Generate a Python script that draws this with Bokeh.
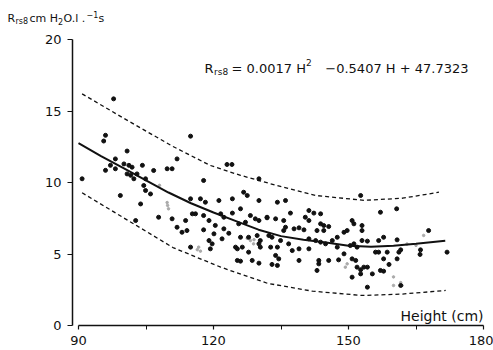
from bokeh.plotting import figure
from bokeh.models import Label, FixedTicker, Range1d
from bokeh.embed import file_html
from bokeh.resources import INLINE

# ---- data ----
pts_h = [97.8, 96, 95.6, 100.8, 98.2, 97.1, 96, 98.2, 100.1, 101.2, 101.9, 104.2, 106.7, 109.7, 110.8,
         100.8, 101.6, 103, 102.3, 104.9, 104.5, 104.9, 106, 90.8, 99.3, 103.8, 107.8, 110.8, 102.7, 114.9,
         111.9, 123, 124.1, 117.8, 130.1, 114.9, 117.1, 118.2, 121.2, 124.2, 126.7, 127.5, 130.1, 126, 131.9,
         128.2, 129.3, 130.1, 115.3, 116, 117.8, 121.6, 122.3, 124.2, 119, 113.8, 111.9, 120.4, 125.6, 127.1,
         122.3, 117.8, 113, 114.1, 120.1, 123.4, 126, 127.8, 129.7, 130.4, 121.9, 119, 119.7, 114.9, 124.9,
         125.3, 126.4, 119.3, 130.1, 130.4, 127.8, 125.3, 126, 128.6, 130.1,
         134.2, 136, 141.2, 142.3, 143.8, 137.1, 140.4, 131.9, 133.8, 135.6, 136, 135.6, 141.2, 143.8, 144.5,
         145.6, 150.8, 151.2, 137.9, 139, 140.1, 143, 144.5, 147.5, 149, 149.7, 153, 132.3, 133, 141.2,
         142.7, 143.8, 144.9, 146.4, 147.5, 150.4, 151.2, 151.9, 134.9, 134.2, 132.7, 136.7, 137.5, 139, 141.2,
         133.8, 134.5, 139, 143.4, 143.4, 145.6, 147.8, 149, 150.8, 151.6, 133, 134.2, 143, 151.9, 152.7,
         150.8, 152.7,
         157.1, 160.7, 167.8, 153, 157.8, 156.7, 160.8, 153, 154.2, 156, 156.7, 158.6, 161.6, 161.2, 166,
         165.9, 171.9, 157.8, 160.8, 159, 153.4, 154.2, 152.7, 155.3, 157.1, 157.8, 161.6, 154.2]
pts_r = [15.85, 13.3, 12.9, 12.2, 11.65, 11.2, 10.85, 10.96, 11.3, 11.2, 11.07, 11.2, 10.84, 10.96, 10.96,
         10.6, 10.5, 10.6, 10.26, 10.26, 9.79, 9.44, 9.2, 10.26, 9.09, 8.5, 7.57, 7.46, 7.34, 13.24,
         11.65, 11.26, 11.26, 10.14, 10.26, 8.86, 8.86, 8.62, 8.74, 8.86, 9.32, 9.09, 8.74, 8.16, 7.57,
         7.69, 7.46, 7.34, 7.81, 7.81, 7.69, 7.81, 7.57, 7.86, 7.34, 7.34, 6.87, 7.0, 7.11, 7.22,
         6.76, 6.69, 6.52, 6.64, 6.41, 6.45, 6.17, 6.17, 6.29, 5.94, 6.06, 5.94, 5.71, 5.48, 5.48,
         5.36, 5.48, 5.36, 5.71, 5.48, 5.13, 4.55, 4.5, 4.55, 4.36,
         8.62, 8.74, 8.04, 7.86, 7.81, 7.86, 7.57, 7.53, 7.46, 7.34, 6.87, 6.64, 7.34, 7.11, 6.99,
         6.92, 7.34, 7.11, 6.76, 6.83, 6.69, 6.64, 6.64, 6.17, 6.52, 6.64, 6.64, 6.29, 6.17, 6.06,
         5.94, 5.83, 5.71, 5.94, 5.48, 5.59, 5.71, 5.48, 5.94, 5.48, 5.48, 5.71, 5.24, 5.36, 5.36,
         4.9, 4.66, 4.55, 4.55, 4.31, 4.55, 4.59, 5.01, 4.66, 4.55, 4.27, 4.2, 3.85, 4.08, 3.9,
         3.38, 9.09,
         7.92, 8.16, 6.64, 6.99, 6.17, 5.94, 5.99, 5.94, 5.9, 5.13, 5.13, 5.13, 5.29, 5.13, 5.29,
         4.97, 5.13, 4.66, 4.66, 4.27, 4.08, 4.08, 3.61, 3.61, 3.85, 3.8, 2.8, 2.68]

gray_h = [109.7, 110, 109.8, 116.7, 116.4, 117.1, 127.5, 128.2, 128.9, 129, 149.3, 149.7, 160, 161.6,
          160, 161.9, 166.7, 108, 163, 165]
gray_r = [8.6, 8.16, 8.4, 5.48, 5.3, 5.2, 6.1, 5.94, 5.71, 6.0, 4.08, 4.31, 3.4, 3.0,
          2.8, 2.8, 6.3, 9.8, 5.7, 5.6]

curve_h = [90, 95, 100, 105, 110, 115, 120, 125, 130, 135, 140, 145, 150, 155, 160, 165, 171.5]
curve_r = [12.75, 11.85, 11.0, 10.15, 9.3, 8.55, 7.9, 7.3, 6.7, 6.25, 6.0, 5.8, 5.58, 5.5, 5.58, 5.72, 5.92]

upper_h = [90.8, 100, 110.8, 119.3, 126, 132.7, 142.7, 153.5, 162, 170.1]
upper_r = [16.2, 14.5, 12.55, 11.19, 10.5, 9.91, 9.09, 8.75, 8.9, 9.32]

lower_h = [90.8, 100.4, 111, 121.6, 132, 142, 153, 162, 171.6]
lower_r = [9.28, 7.46, 5.45, 4.08, 2.95, 2.4, 2.1, 2.2, 2.45]

x_ticks = [90, 120, 150, 180]
x_minor = [105, 135, 165]
y_ticks = [0, 5, 10, 15, 20]

FONT = "DejaVu Sans"
INK = "#111111"
W, H = 493, 350

# page geometry: H=90 sits at page x 78, 4.5 px per cm; R=0 at page y 325, 14.3 px per unit
PX_X0, PX_PER_H = 78.0, 4.5
PX_Y0, PX_PER_R = 325.0, 14.3
x_lo = 90 - PX_X0 / PX_PER_H
x_hi = 90 + (W - PX_X0) / PX_PER_H
y_hi = PX_Y0 / PX_PER_R
y_lo = -(H - PX_Y0) / PX_PER_R

p = figure(width=W, height=H, output_backend="svg", toolbar_location=None,
           x_range=Range1d(x_lo, x_hi), y_range=Range1d(y_lo, y_hi),
           min_border=0, min_border_left=0, min_border_right=0,
           min_border_top=0, min_border_bottom=0)
p.background_fill_color = "white"
p.border_fill_color = "white"
p.outline_line_color = None
p.xgrid.visible = False
p.ygrid.visible = False

p.xaxis.ticker = FixedTicker(ticks=x_ticks, minor_ticks=x_minor)
p.xaxis.bounds = (90, 180)
p.xaxis.fixed_location = 0
p.yaxis.ticker = FixedTicker(ticks=y_ticks, minor_ticks=[])
p.yaxis.bounds = (0, 20)
p.yaxis.fixed_location = 90 - 6 / PX_PER_H
for ax in (p.xaxis[0], p.yaxis[0]):
    ax.axis_line_color = INK
    ax.axis_line_width = 1.5
    ax.major_tick_line_color = INK
    ax.major_tick_line_width = 1.2
    ax.minor_tick_line_color = INK
    ax.major_tick_in = 0
    ax.minor_tick_in = 0
    ax.major_label_text_font = FONT
    ax.major_label_text_font_size = "13px"
    ax.major_label_text_color = INK
    ax.major_label_standoff = 6
p.xaxis.major_tick_out = 4
p.xaxis.minor_tick_out = 4
p.yaxis.major_tick_out = 5
p.yaxis.minor_tick_out = 0

p.line(upper_h, upper_r, line_color=INK, line_width=1.3, line_dash="4 3")
p.line(lower_h, lower_r, line_color=INK, line_width=1.3, line_dash="4 3")
p.scatter(gray_h, gray_r, size=2.5, color="#aaaaaa")
p.scatter(pts_h, pts_r, size=4, color=INK)
p.line(curve_h, curve_r, line_color=INK, line_width=2)


def lab(text, x, y_top, size, align="left"):
    # x, y_top: page pixels of the text baseline, measured from the page's top-left
    p.add_layout(Label(x=x, y=H - y_top, x_units="screen", y_units="screen",
                       text=text, text_font=FONT, text_font_size=f"{size}px", text_color=INK,
                       text_align=align, text_baseline="alphabetic"))


# y-axis title (top left)
lab("R", 7, 18, 11)
lab("rs8", 15, 21, 8)
lab("cm H", 29, 18, 11)
lab("2", 57.5, 21, 8)
lab("O.l .", 63, 18, 11)
lab("\u22121", 86, 14, 8)
lab("s", 98, 18, 11)

# equation
lab("R", 204, 68, 13)
lab("rs8", 213.5, 71, 9)
lab("= 0.0017 H", 231, 68, 13)
lab("2", 305.5, 62, 9)
lab("\u22120.5407 H + 47.7323", 468, 68, 13, align="right")

# x-axis title
lab("Height (cm)", 483, 315, 14, align="right")

open("out.html", "w").write(file_html(p, INLINE))
